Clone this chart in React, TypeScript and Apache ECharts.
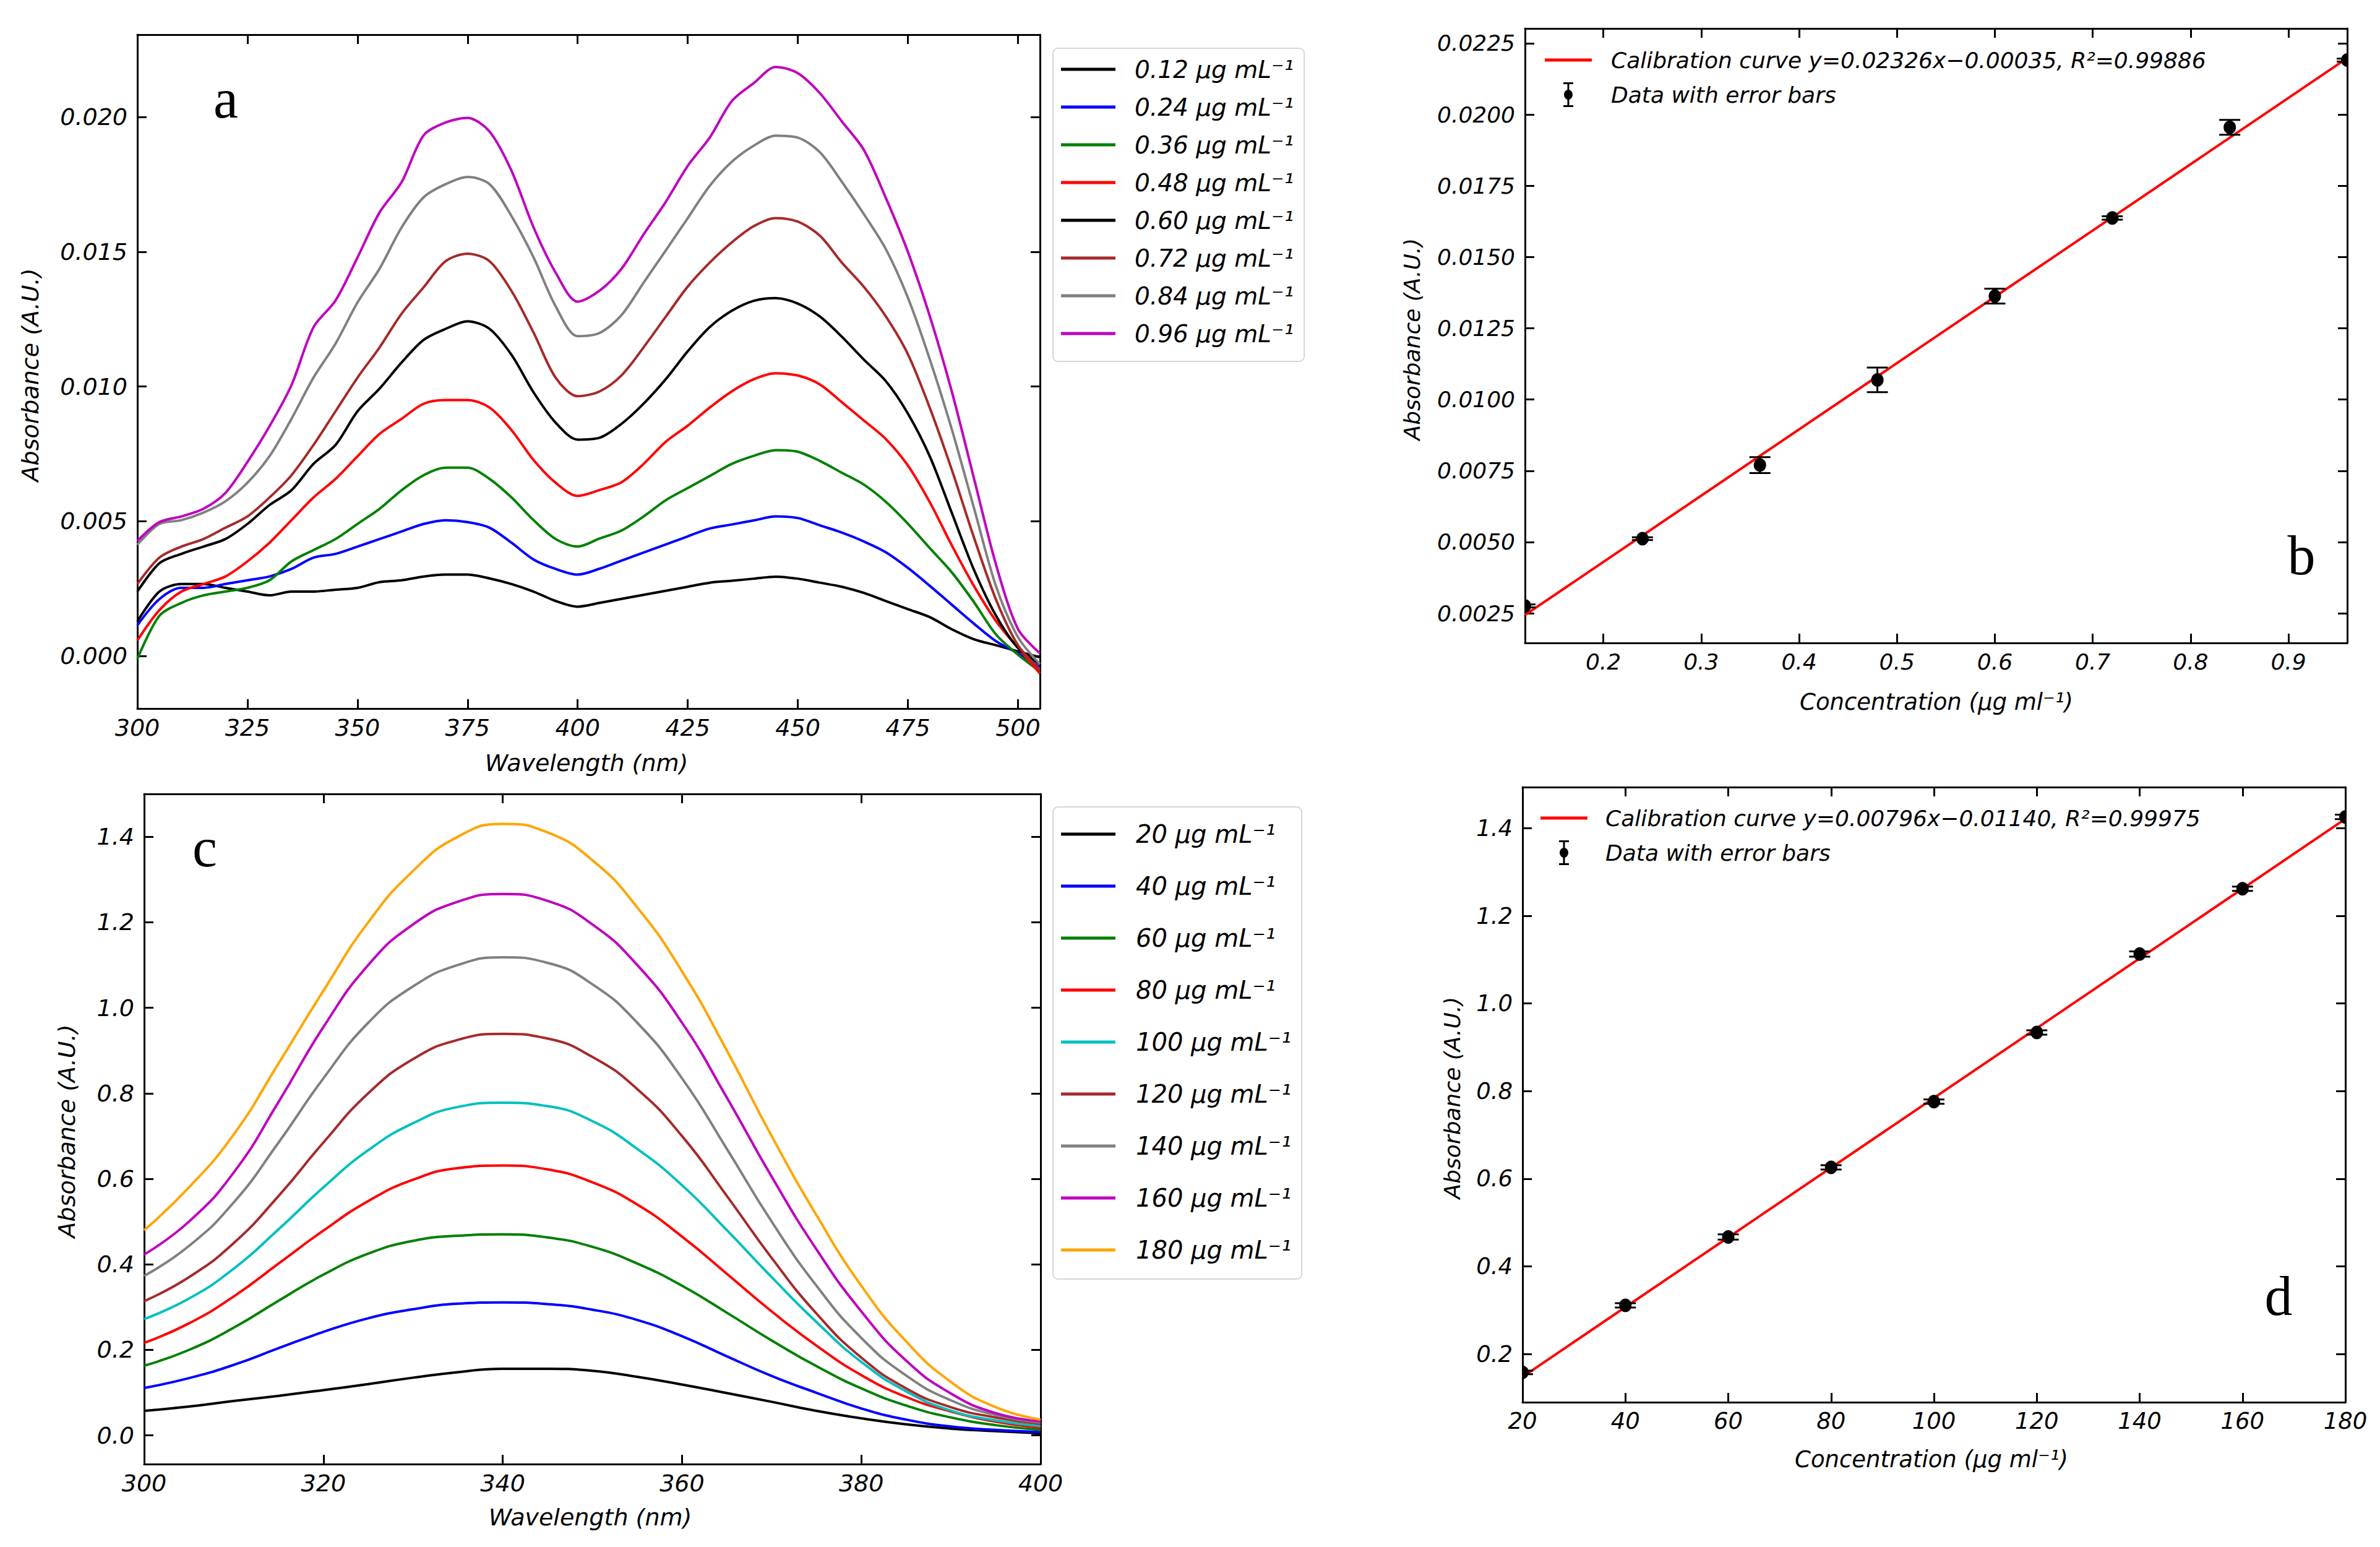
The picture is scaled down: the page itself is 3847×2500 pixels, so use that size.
import React, { useEffect, useRef } from "react";
import * as echarts from "echarts";

// ---------- Panel a : UV-Vis spectra (low concentrations) ----------
const WL_A = [300, 305, 310, 315, 320, 325, 330, 335, 340, 345, 350, 355, 360, 365, 370, 375, 380, 385, 390, 395, 400,
  405, 410, 415, 420, 425, 430, 435, 440, 445, 450, 455, 460, 465, 470, 475, 480, 485, 490, 495, 500, 505];
const A_012 = [0.00128, 0.00239, 0.00267, 0.00267, 0.00253, 0.00239, 0.00225, 0.00239, 0.00239, 0.00246, 0.00253, 0.00274, 0.00281, 0.00295, 0.00302, 0.00302, 0.00288, 0.00267, 0.00239, 0.00204, 0.00183,
  0.00197, 0.00212, 0.00227, 0.00242, 0.00257, 0.00272, 0.00279, 0.00287, 0.00294, 0.00287, 0.00272, 0.00257, 0.00234, 0.00204, 0.00174, 0.00144, 0.00099, 0.00062, 0.0004, 0.00017, -0.00005];
const A_024 = [0.00114, 0.00211, 0.00253, 0.00253, 0.00267, 0.00281, 0.00295, 0.00323, 0.00365, 0.00379, 0.00406, 0.00434, 0.00462, 0.0049, 0.00504, 0.00497, 0.00476, 0.0042, 0.00358, 0.00323, 0.00302,
  0.00324, 0.00354, 0.00384, 0.00414, 0.00444, 0.00473, 0.00488, 0.00503, 0.00518, 0.00512, 0.00485, 0.00458, 0.00425, 0.00385, 0.00327, 0.0026, 0.0019, 0.0012, 0.00055, 0.0001, -0.00042];
const A_036 = [-0.00011, 0.00149, 0.00197, 0.00225, 0.00239, 0.00253, 0.00281, 0.00351, 0.00393, 0.00434, 0.0049, 0.00546, 0.00615, 0.00671, 0.00699, 0.00699, 0.00657, 0.00588, 0.00504, 0.00434, 0.00406,
  0.00436, 0.00466, 0.00518, 0.00578, 0.00623, 0.00668, 0.00713, 0.00743, 0.00764, 0.00758, 0.00724, 0.0068, 0.00636, 0.00572, 0.00491, 0.004, 0.0031, 0.002, 0.0008, 0.00005, -0.00057];
const A_048 = [0.00058, 0.0017, 0.00239, 0.00267, 0.00295, 0.00351, 0.0042, 0.00504, 0.00588, 0.00657, 0.00741, 0.00824, 0.0088, 0.00936, 0.0095, 0.0095, 0.00922, 0.00838, 0.00727, 0.00643, 0.00594,
  0.00616, 0.00645, 0.00713, 0.00795, 0.00855, 0.00922, 0.00982, 0.01027, 0.01049, 0.01041, 0.01008, 0.00942, 0.00874, 0.00805, 0.00707, 0.0057, 0.0041, 0.0026, 0.0013, 0.0003, -0.00065];
const A_060 = [0.00239, 0.00344, 0.00379, 0.00406, 0.00434, 0.0049, 0.0056, 0.00615, 0.00713, 0.00783, 0.00908, 0.00992, 0.01089, 0.01173, 0.01214, 0.01242, 0.01214, 0.01117, 0.00978, 0.00866, 0.00803,
  0.0081, 0.00862, 0.00937, 0.01027, 0.01131, 0.01221, 0.01281, 0.01318, 0.01328, 0.01308, 0.0126, 0.01185, 0.011, 0.0102, 0.009, 0.0074, 0.0053, 0.0032, 0.0015, 0.0003, -0.0003];
const A_072 = [0.00267, 0.00365, 0.00406, 0.00434, 0.00476, 0.00518, 0.00588, 0.00671, 0.00783, 0.00908, 0.01033, 0.01145, 0.0127, 0.01368, 0.01465, 0.01493, 0.01465, 0.01354, 0.012, 0.01033, 0.00964,
  0.00982, 0.01042, 0.01146, 0.01259, 0.01371, 0.0146, 0.01535, 0.01595, 0.01625, 0.01612, 0.0156, 0.0146, 0.0137, 0.0126, 0.0112, 0.0092, 0.0069, 0.0044, 0.0021, 0.0004, -0.0005];
const A_084 = [0.00413, 0.0049, 0.00504, 0.00532, 0.00574, 0.00643, 0.00741, 0.0088, 0.01033, 0.01159, 0.01312, 0.01437, 0.0159, 0.01702, 0.01751, 0.01778, 0.01751, 0.01632, 0.01479, 0.01298, 0.01187,
  0.01199, 0.01266, 0.01386, 0.01505, 0.01625, 0.01745, 0.01834, 0.01894, 0.01931, 0.01924, 0.0187, 0.0176, 0.0164, 0.0151, 0.0133, 0.011, 0.0084, 0.0055, 0.0026, 0.0007, -0.0003];
const A_096 = [0.00427, 0.00497, 0.00518, 0.00546, 0.00605, 0.0072, 0.00852, 0.01005, 0.0122, 0.01319, 0.01479, 0.01646, 0.01758, 0.01932, 0.0198, 0.01997, 0.01946, 0.018, 0.0159, 0.01423, 0.01315,
  0.01356, 0.01438, 0.01565, 0.01685, 0.01819, 0.01924, 0.02059, 0.02126, 0.02186, 0.02163, 0.02089, 0.01984, 0.01878, 0.017, 0.015, 0.0126, 0.0098, 0.0066, 0.0034, 0.001, 0.0001];
const A_NAMES = ["0.12 μg mL⁻¹", "0.24 μg mL⁻¹", "0.36 μg mL⁻¹", "0.48 μg mL⁻¹", "0.60 μg mL⁻¹", "0.72 μg mL⁻¹", "0.84 μg mL⁻¹", "0.96 μg mL⁻¹"];
const A_COLORS = ["#000000", "#0000ff", "#008000", "#ff0000", "#000000", "#a52a2a", "#808080", "#bf00bf"];
const A_SERIES = [A_012, A_024, A_036, A_048, A_060, A_072, A_084, A_096];
const A_X_TICKS = [300, 325, 350, 375, 400, 425, 450, 475, 500];
const A_Y_TICKS = [0, 0.005, 0.01, 0.015, 0.02];

// ---------- Panel b : calibration (low) ----------
const B_X = [0.12, 0.24, 0.36, 0.48, 0.6, 0.72, 0.84, 0.96];
const B_Y = [0.00276, 0.00512, 0.0077, 0.01069, 0.01363, 0.01637, 0.01955, 0.02191];
const B_ERR = [0.00005, 0.00005, 0.00028, 0.00043, 0.00026, 0.00006, 0.00026, 0.00005];
const B_FIT_X = [0.12, 0.96];
const B_FIT_Y = [0.00244, 0.02198];
const B_FIT_NAME = "Calibration curve y=0.02326x−0.00035, R²=0.99886";
const B_X_TICKS = [0.2, 0.3, 0.4, 0.5, 0.6, 0.7, 0.8, 0.9];
const B_Y_TICKS = [0.0025, 0.005, 0.0075, 0.01, 0.0125, 0.015, 0.0175, 0.02, 0.0225];

// ---------- Panel c : UV-Vis spectra (high concentrations) ----------
const WL_C = [300, 305, 310, 315, 320, 325, 330, 335, 340, 345, 350, 355, 360, 365, 370, 375, 380, 385, 390, 395, 400];
const C_20 = [0.0574, 0.0675, 0.0806, 0.0926, 0.106, 0.12, 0.135, 0.148, 0.156, 0.156, 0.151, 0.137, 0.119, 0.099, 0.0786, 0.0574, 0.04, 0.026, 0.016, 0.01, 0.005];
const C_40 = [0.111, 0.134, 0.165, 0.204, 0.242, 0.274, 0.295, 0.308, 0.311, 0.307, 0.294, 0.27, 0.232, 0.185, 0.139, 0.0997, 0.063, 0.037, 0.021, 0.013, 0.008];
const C_60 = [0.163, 0.2, 0.252, 0.315, 0.376, 0.425, 0.455, 0.467, 0.47, 0.463, 0.441, 0.402, 0.35, 0.287, 0.222, 0.162, 0.11, 0.07, 0.042, 0.024, 0.013];
const C_80 = [0.2165, 0.262, 0.325, 0.402, 0.479, 0.548, 0.598, 0.625, 0.631, 0.622, 0.592, 0.54, 0.465, 0.378, 0.29, 0.21, 0.141, 0.09, 0.056, 0.032, 0.018];
const C_100 = [0.272, 0.32, 0.39, 0.482, 0.58, 0.667, 0.73, 0.768, 0.778, 0.77, 0.735, 0.67, 0.585, 0.48, 0.37, 0.265, 0.172, 0.103, 0.058, 0.035, 0.022];
const C_120 = [0.314, 0.37, 0.45, 0.56, 0.685, 0.8, 0.88, 0.925, 0.939, 0.928, 0.885, 0.81, 0.7, 0.56, 0.415, 0.285, 0.182, 0.11, 0.066, 0.042, 0.027];
const C_140 = [0.373, 0.443, 0.545, 0.685, 0.835, 0.965, 1.05, 1.1, 1.118, 1.105, 1.055, 0.965, 0.835, 0.67, 0.5, 0.35, 0.228, 0.14, 0.082, 0.048, 0.03];
const C_160 = [0.423, 0.5, 0.615, 0.78, 0.955, 1.1, 1.195, 1.248, 1.266, 1.25, 1.195, 1.1, 0.965, 0.79, 0.605, 0.435, 0.29, 0.175, 0.098, 0.052, 0.033];
const C_180 = [0.48, 0.58, 0.704, 0.87, 1.04, 1.2, 1.32, 1.4, 1.43, 1.41, 1.345, 1.235, 1.085, 0.9, 0.7, 0.515, 0.35, 0.22, 0.125, 0.066, 0.037];
const C_NAMES = ["20 μg mL⁻¹", "40 μg mL⁻¹", "60 μg mL⁻¹", "80 μg mL⁻¹", "100 μg mL⁻¹", "120 μg mL⁻¹", "140 μg mL⁻¹", "160 μg mL⁻¹", "180 μg mL⁻¹"];
const C_COLORS = ["#000000", "#0000ff", "#008000", "#ff0000", "#00bfbf", "#a52a2a", "#808080", "#bf00bf", "#ffa500"];
const C_SERIES = [C_20, C_40, C_60, C_80, C_100, C_120, C_140, C_160, C_180];
const C_X_TICKS = [300, 320, 340, 360, 380, 400];
const C_Y_TICKS = [0, 0.2, 0.4, 0.6, 0.8, 1.0, 1.2, 1.4];

// ---------- Panel d : calibration (high) ----------
const D_X = [20, 40, 60, 80, 100, 120, 140, 160, 180];
const D_Y = [0.158, 0.311, 0.467, 0.626, 0.776, 0.934, 1.113, 1.262, 1.426];
const D_ERR = [0.004, 0.005, 0.006, 0.005, 0.005, 0.005, 0.006, 0.005, 0.005];
const D_FIT_X = [20, 180];
const D_FIT_Y = [0.1478, 1.4214];
const D_FIT_NAME = "Calibration curve y=0.00796x−0.01140, R²=0.99975";
const D_X_TICKS = [20, 40, 60, 80, 100, 120, 140, 160, 180];
const D_Y_TICKS = [0.2, 0.4, 0.6, 0.8, 1.0, 1.2, 1.4];

const ERR_NAME = "Data with error bars";
const FONT = "DejaVu Sans";
const ERR_ICON =
  "path://M2,0h16v3h-16z M8.5,0h3v40h-3z M2,37h16v3h-16z M3,20a7,8 0 1,1 14,0a7,8 0 1,1 -14,0z";
const LINE_ICON_A = "path://M0,0h88v5h-88z";
const LINE_ICON_B = "path://M0,0h76v5h-76z";

function axisCommon(ticks: number[], fmt: (v: number) => string, fontSize: number, showLabel: boolean, margin: number) {
  return {
    type: "value" as const,
    axisLine: { show: true, onZero: false, lineStyle: { color: "#000", width: 3 } },
    axisTick: { show: true, inside: true, length: 15, customValues: ticks, lineStyle: { color: "#000", width: 3 } },
    axisLabel: {
      show: showLabel,
      customValues: ticks,
      formatter: fmt,
      fontSize,
      fontStyle: "italic",
      fontFamily: FONT,
      color: "#000",
      margin,
    },
    splitLine: { show: false },
  };
}

function xAxes(grid: number, min: number, max: number, ticks: number[], fmt: (v: number) => string, fs: number) {
  return [
    { ...axisCommon(ticks, fmt, fs, true, 12), gridIndex: grid, min, max, position: "bottom" },
    { ...axisCommon(ticks, fmt, fs, false, 12), gridIndex: grid, min, max, position: "top" },
  ];
}
function yAxes(grid: number, min: number, max: number, ticks: number[], fmt: (v: number) => string, fs: number) {
  return [
    { ...axisCommon(ticks, fmt, fs, true, 16), gridIndex: grid, min, max, position: "left" },
    { ...axisCommon(ticks, fmt, fs, false, 16), gridIndex: grid, min, max, position: "right" },
  ];
}

function errRender(params: any, api: any) {
  const x = api.value(0);
  const y = api.value(1);
  const e = api.value(2);
  const p = api.coord([x, y]);
  const t = api.coord([x, y + e]);
  const b = api.coord([x, y - e]);
  const c = 17;
  const st = { stroke: "#000", lineWidth: 3 };
  return {
    type: "group",
    children: [
      { type: "line", shape: { x1: t[0], y1: t[1], x2: b[0], y2: b[1] }, style: st },
      { type: "line", shape: { x1: t[0] - c, y1: t[1], x2: t[0] + c, y2: t[1] }, style: st },
      { type: "line", shape: { x1: b[0] - c, y1: b[1], x2: b[0] + c, y2: b[1] }, style: st },
      { type: "ellipse", shape: { cx: p[0], cy: p[1], rx: 10, ry: 11 }, style: { fill: "#000" } },
    ],
  };
}

function textG(x: number, y: number, text: string, font: string, rot = 0) {
  return {
    type: "text",
    x,
    y,
    rotation: rot,
    style: {
      text,
      font,
      fill: "#000",
      align: "center",
      verticalAlign: "middle",
      textAlign: "center",
      textVerticalAlign: "middle",
    },
  };
}

export default function App() {
  const ref = useRef<HTMLDivElement>(null);
  useEffect(() => {
    if (!ref.current) return;
    const chart = echarts.init(ref.current, undefined, { renderer: "svg" });
    const f0 = (v: number) => String(Math.round(v));
    const f1 = (v: number) => v.toFixed(1);
    const f3 = (v: number) => v.toFixed(3);
    const f4 = (v: number) => v.toFixed(4);

    const series: any[] = [];
    A_SERIES.forEach((arr, i) => {
      series.push({
        type: "line",
        name: A_NAMES[i],
        xAxisIndex: 0,
        yAxisIndex: 0,
        data: WL_A.map((w, j) => [w, arr[j]]),
        smooth: 0.3,
        showSymbol: false,
        symbol: "none",
        color: A_COLORS[i],
        lineStyle: { color: A_COLORS[i], width: 4 },
        z: 2 + i,
      });
    });
    C_SERIES.forEach((arr, i) => {
      series.push({
        type: "line",
        name: C_NAMES[i],
        xAxisIndex: 4,
        yAxisIndex: 4,
        data: WL_C.map((w, j) => [w, arr[j]]),
        smooth: true,
        showSymbol: false,
        symbol: "none",
        color: C_COLORS[i],
        lineStyle: { color: C_COLORS[i], width: 4 },
        z: 2 + i,
      });
    });
    // panel b
    series.push({
      type: "line",
      name: B_FIT_NAME,
      xAxisIndex: 2,
      yAxisIndex: 2,
      data: B_FIT_X.map((x, j) => [x, B_FIT_Y[j]]),
      showSymbol: false,
      symbol: "none",
      color: "#ff0000",
      lineStyle: { color: "#ff0000", width: 4 },
      z: 3,
    });
    series.push({
      type: "custom",
      name: ERR_NAME,
      xAxisIndex: 2,
      yAxisIndex: 2,
      renderItem: errRender,
      encode: { x: 0, y: 1 },
      clip: true,
      itemStyle: { color: "#000" },
      data: B_X.map((x, j) => [x, B_Y[j], B_ERR[j]]),
      z: 4,
    });
    // panel d
    series.push({
      type: "line",
      name: D_FIT_NAME,
      xAxisIndex: 6,
      yAxisIndex: 6,
      data: D_FIT_X.map((x, j) => [x, D_FIT_Y[j]]),
      showSymbol: false,
      symbol: "none",
      color: "#ff0000",
      lineStyle: { color: "#ff0000", width: 4 },
      z: 3,
    });
    series.push({
      type: "custom",
      name: ERR_NAME,
      xAxisIndex: 6,
      yAxisIndex: 6,
      renderItem: errRender,
      encode: { x: 0, y: 1 },
      clip: true,
      itemStyle: { color: "#000" },
      data: D_X.map((x, j) => [x, D_Y[j], D_ERR[j]]),
      z: 4,
    });

    const legendText = (fs: number, padLeft: number, lh: number) => ({
      fontSize: fs,
      fontStyle: "italic",
      fontFamily: FONT,
      color: "#000",
      padding: [0, 0, 0, padLeft],
      lineHeight: lh,
    });

    const option: any = {
      animation: false,
      backgroundColor: "#ffffff",
      textStyle: { fontFamily: FONT },
      grid: [
        { left: 222, top: 56, width: 1459, height: 1089 },
        { left: 2465, top: 46, width: 1329, height: 993 },
        { left: 233, top: 1283, width: 1449, height: 1083 },
        { left: 2461, top: 1272, width: 1330, height: 994 },
      ],
      xAxis: [
        ...xAxes(0, 300, 505, A_X_TICKS, f0, 38),
        ...xAxes(1, 0.12, 0.96, B_X_TICKS, f1, 36),
        ...xAxes(2, 300, 400, C_X_TICKS, f0, 38),
        ...xAxes(3, 20, 180, D_X_TICKS, f0, 37),
      ],
      yAxis: [
        ...yAxes(0, -0.00195, 0.02306, A_Y_TICKS, f3, 38),
        ...yAxes(1, 0.00146, 0.02302, B_Y_TICKS, f4, 36),
        ...yAxes(2, -0.067, 1.5, C_Y_TICKS, f1, 38),
        ...yAxes(3, 0.09, 1.494, D_Y_TICKS, f1, 37),
      ],
      legend: [
        {
          orient: "vertical",
          left: 1702,
          top: 78,
          data: A_NAMES.map((n) => ({ name: n, icon: LINE_ICON_A })),
          itemWidth: 88,
          itemHeight: 40,
          itemGap: 21,
          padding: [14, 17, 25, 13],
          backgroundColor: "#ffffff",
          borderColor: "#d6d6d6",
          borderWidth: 2,
          borderRadius: 8,
          textStyle: legendText(39, 26, 40),
          selectedMode: false,
        },
        {
          orient: "vertical",
          left: 1702,
          top: 1304,
          data: C_NAMES.map((n) => ({ name: n, icon: LINE_ICON_A })),
          itemWidth: 88,
          itemHeight: 44,
          itemGap: 40,
          padding: [22, 17, 25, 13],
          backgroundColor: "#ffffff",
          borderColor: "#d6d6d6",
          borderWidth: 2,
          borderRadius: 8,
          textStyle: legendText(40, 28, 44),
          selectedMode: false,
        },
        {
          orient: "vertical",
          left: 2497,
          top: 77,
          data: [{ name: B_FIT_NAME, icon: LINE_ICON_B }, { name: ERR_NAME, icon: ERR_ICON }],
          itemWidth: 76,
          itemHeight: 40,
          itemGap: 16,
          padding: 0,
          textStyle: legendText(36, 26, 40),
          selectedMode: false,
        },
        {
          orient: "vertical",
          left: 2490,
          top: 1302,
          data: [{ name: D_FIT_NAME, icon: LINE_ICON_B }, { name: ERR_NAME, icon: ERR_ICON }],
          itemWidth: 76,
          itemHeight: 40,
          itemGap: 16,
          padding: 0,
          textStyle: legendText(36, 24, 40),
          selectedMode: false,
        },
      ],
      graphic: [
        textG(365, 159, "a", '90px "Liberation Serif"'),
        textG(3720, 897, "b", '90px "Liberation Serif"'),
        textG(331, 1369, "c", '90px "Liberation Serif"'),
        textG(3683, 2094, "d", '90px "Liberation Serif"'),
        textG(49, 606, "Absorbance (A.U.)", `italic 38px "${FONT}"`, Math.PI / 2),
        textG(948, 1233, "Wavelength (nm)", `italic 38px "${FONT}"`),
        textG(108, 1828, "Absorbance (A.U.)", `italic 38px "${FONT}"`, Math.PI / 2),
        textG(954, 2452, "Wavelength (nm)", `italic 38px "${FONT}"`),
        textG(2282, 548, "Absorbance (A.U.)", `italic 36px "${FONT}"`, Math.PI / 2),
        textG(3130, 1134, "Concentration (μg ml⁻¹)", `italic 37px "${FONT}"`),
        textG(2347, 1774, "Absorbance (A.U.)", `italic 36px "${FONT}"`, Math.PI / 2),
        textG(3122, 2358, "Concentration (μg ml⁻¹)", `italic 37px "${FONT}"`),
      ],
      series,
    };
    chart.setOption(option);
    return () => chart.dispose();
  }, []);
  return (
    <div
      ref={ref}
      style={{ position: "fixed", left: 0, top: 0, width: 3847, height: 2500, background: "#fff" }}
    />
  );
}
